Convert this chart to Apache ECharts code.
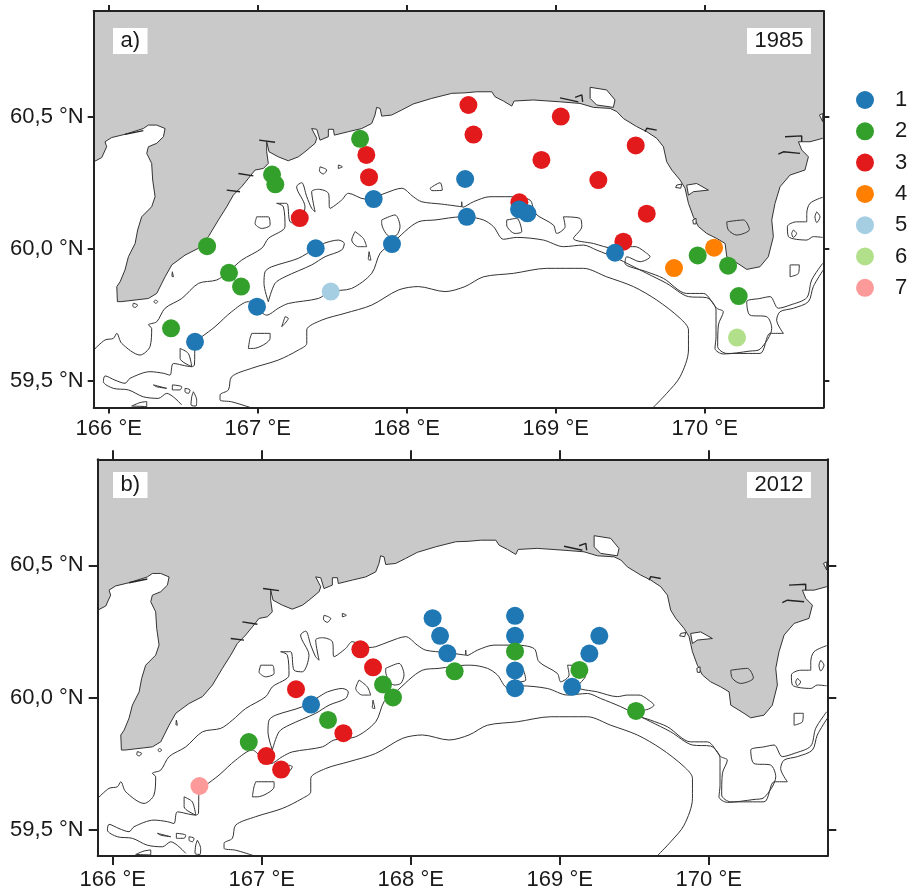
<!DOCTYPE html>
<html>
<head>
<meta charset="utf-8">
<script src="https://cdn.jsdelivr.net/npm/echarts@6/dist/echarts.min.js"></script>
<style>html,body{margin:0;padding:0;background:#fff}#c{width:907px;height:893px}</style>
</head>
<body>
<div id="c"></div>
<script>
const xMin = 165.899, xMax = 170.796, yMin = 59.4005, yMax = 60.901;
const xTickValues = [166, 167, 168, 169, 170];
const xTickLabels = ['166 °E', '167 °E', '168 °E', '169 °E', '170 °E'];
const yTickValues = [59.5, 60, 60.5];
const yTickLabels = ['59,5 °N', '60,0 °N', '60,5 °N'];
const classNames = ['1', '2', '3', '4', '5', '6', '7'];
const classColors = ['#1f78b4', '#33a02c', '#e31a1c', '#ff7f00', '#a6cee3', '#b2df8a', '#fb9a99'];

// Stations, 1985 [lon, lat]
const a1 = [[166.579,59.649],[166.995,59.782],[167.389,60.003],[167.901,60.019],[167.778,60.189],[168.392,60.265],[168.403,60.122],[168.754,60.150],[168.810,60.135],[169.398,59.986]];
const a2 = [[166.418,59.700],[166.807,59.910],[166.888,59.858],[166.660,60.011],[167.096,60.282],[167.118,60.245],[167.687,60.417],[169.953,59.976],[170.157,59.937],[170.228,59.822]];
const a3 = [[167.282,60.117],[167.747,60.272],[167.729,60.356],[168.414,60.545],[168.448,60.433],[169.034,60.501],[168.904,60.337],[169.537,60.392],[169.286,60.261],[169.611,60.134],[168.756,60.177],[169.454,60.028]];
const a4 = [[169.794,59.928],[170.063,60.005]];
const a5 = [[167.490,59.839]];
const a6 = [[170.217,59.665]];
const a7 = [];
// Stations, 2012 [lon, lat]
const b1 = [[167.331,59.973],[168.147,60.300],[168.197,60.233],[168.246,60.167],[168.700,60.309],[168.700,60.233],[168.700,60.102],[168.700,60.035],[169.083,60.040],[169.199,60.166],[169.266,60.233]];
const b2 = [[166.913,59.831],[167.445,59.915],[167.814,60.049],[167.881,60.000],[168.295,60.099],[168.700,60.174],[169.132,60.104],[169.512,59.949]];
const b3 = [[167.230,60.031],[167.662,60.182],[167.747,60.114],[167.548,59.865],[167.031,59.778],[167.130,59.727]];
const b4 = [], b5 = [], b6 = [];
const b7 = [[166.582,59.665]];

// Coastline [lon, lat]
const coast = [[165.899,60.330],[165.953,60.346],[165.986,60.387],[165.975,60.406],[166.020,60.422],[166.109,60.434],[166.232,60.456],[166.266,60.469],[166.322,60.469],[166.378,60.456],[166.367,60.425],[166.322,60.400],[166.266,60.387],[166.255,60.362],[166.288,60.324],[166.295,60.261],[166.311,60.198],[166.288,60.160],[166.221,60.122],[166.194,60.072],[166.177,60.021],[166.132,59.971],[166.109,59.921],[166.076,59.876],[166.054,59.858],[166.058,59.801],[166.083,59.801],[166.266,59.813],[166.322,59.832],[166.378,59.895],[166.423,59.940],[166.512,59.977],[166.602,60.003],[166.669,60.047],[166.736,60.110],[166.792,60.160],[166.836,60.204],[166.892,60.236],[166.937,60.267],[166.982,60.299],[167.038,60.305],[167.071,60.324],[167.060,60.368],[167.060,60.406],[167.076,60.368],[167.138,60.349],[167.205,60.334],[167.273,60.349],[167.317,60.368],[167.385,60.400],[167.396,60.419],[167.362,60.456],[167.396,60.453],[167.418,60.412],[167.474,60.425],[167.474,60.453],[167.508,60.453],[167.514,60.431],[167.608,60.444],[167.698,60.456],[167.765,60.475],[167.787,60.507],[167.798,60.536],[167.821,60.532],[167.832,60.503],[167.899,60.507],[167.966,60.526],[168.044,60.549],[168.168,60.570],[168.302,60.589],[168.392,60.591],[168.470,60.595],[168.571,60.595],[168.593,60.576],[168.649,60.560],[168.705,60.541],[168.721,60.560],[168.850,60.564],[169.029,60.557],[169.163,60.551],[169.253,60.536],[169.365,60.532],[169.410,60.520],[169.454,60.494],[169.544,60.463],[169.611,60.444],[169.678,60.419],[169.723,60.387],[169.745,60.330],[169.779,60.299],[169.835,60.261],[169.868,60.230],[169.891,60.173],[169.924,60.122],[169.958,60.085],[170.013,60.059],[170.081,60.040],[170.137,60.021],[170.148,59.971],[170.237,59.940],[170.282,59.923],[170.371,59.933],[170.427,59.971],[170.461,60.047],[170.450,60.110],[170.472,60.173],[170.506,60.236],[170.573,60.280],[170.673,60.299],[170.696,60.349],[170.651,60.375],[170.629,60.406],[170.707,60.406],[170.792,60.419]];
// Lagoons cut out of the land
const lagoons = [
  [[169.231,60.612],[169.342,60.602],[169.398,60.564],[169.387,60.536],[169.275,60.545],[169.231,60.570]],
  [[169.879,60.242],[169.946,60.248],[170.025,60.223],[169.924,60.217],[169.891,60.204]],
  [[169.812,60.242],[169.846,60.246],[169.839,60.230],[169.805,60.233]],
  [[169.920,60.110],[169.942,60.116],[169.942,60.095],[169.924,60.095]],
  [[170.770,60.507],[170.792,60.513],[170.792,60.482]]
];
// Open lines: spits along the coast and depth contours
const spits = [
  [[169.029,60.572],[169.152,60.557]],
  [[169.130,60.574],[169.175,60.583],[169.181,60.557]],
  [[169.600,60.444],[169.611,60.457],[169.678,60.450]],
  [[170.539,60.425],[170.651,60.428],[170.651,60.406]],
  [[170.494,60.359],[170.528,60.368],[170.640,60.362]],
  [[167.009,60.412],[167.116,60.404]],
  [[166.870,60.286],[166.971,60.277]],
  [[166.792,60.223],[166.881,60.217]],
  [[166.109,60.434],[166.232,60.448]]
];
const contourUpper = [[165.899,59.618],[165.975,59.656],[166.031,59.662],[166.054,59.681],[166.087,59.643],[166.210,59.599],[166.277,59.631],[166.288,59.700],[166.266,59.713],[166.322,59.725],[166.378,59.776],[166.490,59.813],[166.602,59.870],[166.725,59.883],[166.803,59.914],[166.892,59.958],[167.027,60.003],[167.071,60.040],[167.183,60.085],[167.172,60.160],[167.127,60.173],[167.194,60.173],[167.217,60.103],[167.273,60.097],[167.317,60.160],[167.261,60.236],[167.295,60.251],[167.329,60.198],[167.362,60.154],[167.385,60.141],[167.362,60.217],[167.407,60.226],[167.474,60.211],[167.485,60.154],[167.563,60.185],[167.608,60.211],[167.720,60.189],[167.765,60.192],[167.854,60.211],[167.966,60.230],[168.044,60.198],[168.100,60.179],[168.235,60.170],[168.369,60.160],[168.369,60.179],[168.376,60.158],[168.448,60.179],[168.559,60.198],[168.694,60.198],[168.828,60.185],[168.861,60.135],[168.984,60.091],[169.007,60.059],[169.063,60.085],[169.052,60.122],[169.163,60.116],[169.175,60.085],[169.119,60.040],[169.253,60.021],[169.387,60.003],[169.454,60.009],[169.532,60.009],[169.611,59.984],[169.633,59.971],[169.566,59.952],[169.477,59.971],[169.465,59.946],[169.611,59.914],[169.723,59.889],[169.879,59.832],[169.991,59.832],[170.081,59.776],[170.125,59.763],[170.092,59.713],[170.087,59.631],[170.148,59.605],[170.371,59.605],[170.439,59.681],[170.528,59.681],[170.483,59.731],[170.506,59.763],[170.595,59.776],[170.696,59.801],[170.729,59.858],[170.796,59.921]];
const contourLower = [[166.490,59.410],[166.389,59.454],[166.333,59.435],[166.232,59.441],[166.132,59.467],[166.031,59.473],[165.964,59.498],[165.975,59.520],[166.042,59.504],[166.109,59.492],[166.143,59.511],[166.277,59.536],[166.367,59.530],[166.411,59.523],[166.434,59.567],[166.557,59.555],[166.575,59.561],[166.579,59.649],[166.624,59.668],[166.713,59.706],[166.825,59.763],[166.937,59.801],[166.995,59.775],[167.060,59.750],[167.138,59.776],[167.205,59.794],[167.407,59.813],[167.485,59.839],[167.630,59.851],[167.765,59.908],[167.821,59.984],[167.899,60.021],[168.078,60.103],[168.190,60.110],[168.369,60.122],[168.403,60.122],[168.515,60.110],[168.582,60.085],[168.649,60.037],[168.738,60.044],[168.917,60.034],[169.052,60.009],[169.186,60.015],[169.275,59.996],[169.410,59.965],[169.499,59.940],[169.611,59.908],[169.745,59.870],[169.891,59.820],[170.013,59.816],[170.076,59.769],[170.076,59.668],[170.069,59.624],[170.125,59.603],[170.304,59.614],[170.371,59.621],[170.450,59.700],[170.416,59.744],[170.304,59.750],[170.282,59.801],[170.371,59.813],[170.439,59.820],[170.494,59.776],[170.573,59.788],[170.685,59.816],[170.718,59.883],[170.792,59.946]];
const contourOuter = [[166.948,59.401],[166.825,59.422],[166.747,59.429],[166.747,59.448],[166.803,59.467],[166.825,59.517],[166.960,59.549],[167.138,59.580],[167.273,59.618],[167.329,59.643],[167.329,59.694],[167.429,59.731],[167.586,59.757],[167.765,59.788],[167.944,59.845],[168.078,59.858],[168.257,59.839],[168.391,59.858],[168.515,59.895],[168.716,59.908],[168.940,59.927],[169.186,59.927],[169.342,59.895],[169.521,59.858],[169.678,59.807],[169.835,59.738],[169.891,59.694],[169.891,59.618],[169.835,59.517],[169.745,59.454],[169.655,59.401]];
const contourRight = [[170.792,60.196],[170.707,60.173],[170.685,60.135],[170.685,60.103],[170.617,60.103],[170.555,60.085],[170.562,60.047],[170.685,60.034],[170.729,60.047],[170.792,60.044]];
// Closed contour loops
const loops = [
  [[167.071,59.801],[167.042,59.870],[167.049,59.914],[167.094,59.933],[167.273,59.965],[167.385,60.003],[167.441,60.021],[167.541,60.034],[167.581,60.021],[167.563,59.996],[167.452,59.971],[167.362,59.940],[167.183,59.895],[167.116,59.870]],
  [[166.557,59.555],[166.534,59.605],[166.479,59.624],[166.479,59.586]],
  [[166.993,60.122],[167.071,60.122],[167.083,60.091],[167.027,60.078],[166.982,60.097]],
  [[167.418,60.311],[167.463,60.299],[167.440,60.284],[167.414,60.296]],
  [[167.541,60.318],[167.568,60.311],[167.541,60.305]],
  [[168.157,60.230],[168.224,60.251],[168.239,60.223],[168.168,60.221]],
  [[167.653,60.066],[167.709,60.040],[167.731,60.009],[167.675,60.009],[167.631,60.034]],
  [[167.832,60.110],[167.921,60.129],[167.955,60.085],[167.933,60.053],[167.888,60.047],[167.832,60.097]],
  [[167.747,59.990],[167.760,59.958],[167.742,59.961]],
  [[167.183,59.744],[167.205,59.738],[167.161,59.706]],
  [[166.960,59.681],[167.083,59.681],[167.083,59.662],[166.971,59.624],[166.937,59.624],[166.948,59.662]],
  [[168.671,60.110],[168.738,60.116],[168.772,60.066],[168.727,60.059],[168.671,60.091]],
  [[166.300,59.486],[166.389,59.473],[166.322,59.479]],
  [[166.427,59.486],[166.490,59.479],[166.479,59.467],[166.427,59.467]],
  [[166.512,59.473],[166.546,59.467],[166.535,59.454],[166.512,59.460]],
  [[166.568,59.460],[166.590,59.429],[166.586,59.406],[166.552,59.410],[166.557,59.441]],
  [[166.154,59.406],[166.210,59.419],[166.255,59.423],[166.255,59.404]],
  [[170.573,59.940],[170.635,59.940],[170.629,59.908],[170.573,59.895]],
  [[170.752,60.141],[170.774,60.122],[170.752,60.100],[170.740,60.122]],
  [[170.595,60.072],[170.617,60.059],[170.595,60.044],[170.584,60.059]],
  [[170.148,60.103],[170.260,60.110],[170.300,60.074],[170.215,60.053],[170.159,60.072]],
  [[166.427,59.914],[166.434,59.895],[166.424,59.897]],
  [[166.165,59.795],[166.194,59.788],[166.177,59.779],[166.161,59.784]],
  [[166.315,59.807],[166.329,59.801],[166.315,59.795],[166.302,59.801]]
];

const FONT = '"Liberation Sans", Arial, sans-serif';
const INK = '#222222';
const LAND = '#c9c9c9';
const LINE = '#333333';

const panelLayouts = [
  { left: 93.7, top: 10.9, width: 729.6, height: 396.6, tick: 6, xMargin: 10, yMargin: 10 },
  { left: 97.7, top: 459.3, width: 729.6, height: 396.6, tick: 9, xMargin: 13, yMargin: 14 }
];
const grid = panelLayouts.map(p => ({ left: p.left, top: p.top, width: p.width, height: p.height, containLabel: false }));
const xAxis = [], yAxis = [], series = [];

panelLayouts.forEach((p, i) => {
  const axisBase = {
    type: 'value', gridIndex: i, z: 6, splitLine: { show: false }, scale: true,
    axisLine: { show: true, onZero: false, lineStyle: { color: INK, width: 2 } }
  };
  const tick = vals => ({ show: true, length: p.tick, customValues: vals, lineStyle: { color: INK, width: 2 } });
  const lab = (vals, labs, margin) => ({
    show: true, customValues: vals, margin, color: '#1a1a1a', fontFamily: FONT, fontSize: 22,
    formatter: v => labs[vals.indexOf(v)]
  });
  xAxis.push(Object.assign({}, axisBase, { min: xMin, max: xMax, position: 'bottom', axisTick: tick(xTickValues), axisLabel: lab(xTickValues, xTickLabels, p.xMargin) }));
  xAxis.push(Object.assign({}, axisBase, { min: xMin, max: xMax, position: 'top', axisTick: tick(xTickValues), axisLabel: { show: false } }));
  yAxis.push(Object.assign({}, axisBase, { min: yMin, max: yMax, position: 'left', axisTick: tick(yTickValues), axisLabel: lab(yTickValues, yTickLabels, p.yMargin) }));
  yAxis.push(Object.assign({}, axisBase, { min: yMin, max: yMax, position: 'right', axisTick: tick(yTickValues), axisLabel: { show: false } }));

  const xi = i * 2, yi = i * 2;
  const polygon = (name, rings, fill, z) => ({
    type: 'custom', name, xAxisIndex: xi, yAxisIndex: yi, z, clip: true, silent: true,
    data: rings.map((_, k) => [xMin, yMin, k]),
    encode: { x: 0, y: 1 },
    renderItem: (params, api) => ({
      type: 'polygon',
      shape: { points: rings[api.value(2)].map(pt => api.coord(pt)) },
      style: { fill, stroke: LINE, lineWidth: 1 }
    })
  });
  series.push(polygon('land', [coast.concat([[xMax + 0.1, 60.419], [xMax + 0.1, yMax + 0.1], [xMin - 0.1, yMax + 0.1], [xMin - 0.1, 60.330]])], LAND, 1));
  series.push(polygon('lagoons', lagoons, '#ffffff', 1));

  const line = (pts, smooth) => ({
    type: 'line', name: 'contour', xAxisIndex: xi, yAxisIndex: yi, data: pts, z: 2, clip: true, silent: true,
    showSymbol: false, symbol: 'none', smooth, lineStyle: { color: LINE, width: 1 }, animation: false
  });
  [contourUpper, contourLower, contourOuter, contourRight].forEach(c => series.push(line(c, 0.3)));
  loops.forEach(c => series.push(line(c.concat([c[0]]), 0.3)));
  spits.forEach(c => series.push(Object.assign(line(c, 0), { lineStyle: { color: '#222', width: 1.4 } })));

  const sets = i === 0 ? [a1, a2, a3, a4, a5, a6, a7] : [b1, b2, b3, b4, b5, b6, b7];
  [2, 0, 1, 3, 4, 5, 6].forEach((k, order) => {
    series.push({
      type: 'scatter', name: classNames[k], xAxisIndex: xi, yAxisIndex: yi, data: sets[k],
      symbol: 'circle', symbolSize: 18, z: 3 + order * 0.01, zlevel: 0,
      itemStyle: { color: classColors[k], opacity: 1 }, emphasis: { disabled: true }
    });
  });
});

const title = [
  { text: 'a)', left: 113, top: 28 },
  { text: '1985', left: 747, top: 28 },
  { text: 'b)', left: 113, top: 472 },
  { text: '2012', left: 747, top: 472 }
].map(t => Object.assign(t, {
  backgroundColor: '#ffffff', padding: [0, 7.5], z: 5,
  textStyle: { fontFamily: FONT, fontSize: 22, fontWeight: 'normal', color: '#1a1a1a', lineHeight: 26 }
}));

const chart = echarts.init(document.getElementById('c'), null, { renderer: 'canvas', width: 907, height: 893 });
chart.setOption({
  animation: false,
  backgroundColor: '#ffffff',
  title,
  grid, xAxis, yAxis, series,
  tooltip: { show: false },
  legend: {
    data: classNames.map(n => ({ name: n, icon: 'circle' })),
    orient: 'vertical', left: 856, top: 89, padding: 0,
    itemWidth: 18, itemHeight: 18, itemGap: 9.3, selectedMode: false,
    textStyle: { fontFamily: FONT, fontSize: 22, color: '#1a1a1a', lineHeight: 18, padding: [0, 0, 0, 16] }
  }
});
</script>
</body>
</html>
